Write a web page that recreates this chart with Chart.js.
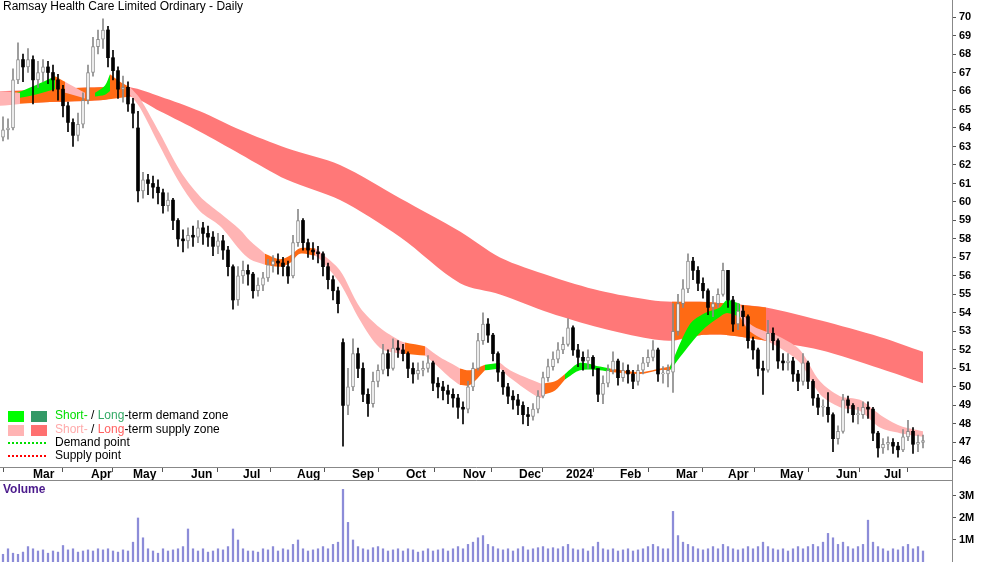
<!DOCTYPE html>
<html><head><meta charset="utf-8">
<script src="https://cdn.jsdelivr.net/npm/chart.js@4.4.0/dist/chart.umd.min.js"></script>
<style>body{margin:0;background:#fff;overflow:hidden}canvas{display:block}</style>
</head><body>
<canvas id="p" width="1000" height="481"></canvas>
<canvas id="v" width="1000" height="81"></canvas>
<script>
// ---- data (one bar per ~2 trading days, index 0..184) ----
const firstOpen = 63.5;
const gapOpen = {68: 52.4, 134: 50.8, 27: 64.0};
const close = [63.9,64.0,66.6,67.7,67.3,67.7,66.6,67.0,67.3,67.0,66.6,66.1,65.2,64.3,63.6,64.2,65.5,67.0,68.4,68.8,
69.3,67.8,67.1,66.1,66.2,65.3,64.8,60.6,61.2,61.0,60.8,60.5,59.8,60.1,59.0,58.0,57.9,58.2,58.1,58.6,
58.3,58.1,57.6,57.9,57.4,56.5,54.7,56.0,56.3,56.1,55.2,55.5,55.9,56.6,56.8,56.7,56.5,56.0,57.8,59.0,
57.8,57.4,57.3,57.2,56.5,55.8,55.2,54.5,49.0,50.0,51.8,51.0,49.6,49.1,50.3,50.9,51.8,51.0,52.1,52.0,
51.8,51.0,50.7,50.9,51.0,51.3,50.2,50.0,49.8,49.6,49.4,48.9,48.8,50.0,51.0,52.5,53.4,52.8,51.8,50.8,
50.0,49.5,49.3,49.0,48.5,48.4,48.8,49.5,50.5,51.1,51.5,52.0,52.3,53.2,52.0,51.6,51.4,51.6,51.0,49.6,
50.2,50.9,51.4,50.5,50.9,50.7,50.3,50.9,51.3,51.6,52.0,50.7,50.7,50.9,53.0,54.5,55.3,56.8,56.3,55.6,
55.2,54.3,54.5,55.0,56.3,54.7,53.4,54.1,53.8,52.5,52.0,51.0,50.9,52.9,52.5,51.4,51.3,51.4,50.7,50.3,
51.3,50.3,49.4,48.9,48.9,48.5,47.2,47.6,49.3,49.0,48.5,48.5,48.9,48.8,47.5,46.7,46.9,47.0,46.8,46.6,
47.3,47.6,46.9,47.0,47.1];
const high = [64.6,64.5,67.2,68.6,68.0,68.3,67.9,67.6,67.7,67.6,67.4,66.9,66.3,65.4,64.5,64.8,65.9,67.4,68.9,69.3,
69.9,69.5,68.2,67.3,66.8,66.5,65.6,64.9,61.6,61.5,61.4,61.2,60.7,60.5,60.2,59.1,58.5,58.6,58.7,59.0,
58.9,58.7,58.4,58.3,58.2,57.6,56.6,56.5,56.8,56.6,56.2,55.9,56.2,56.9,57.1,57.2,57.0,56.8,58.2,59.6,
59.1,58.0,57.8,57.6,57.3,56.7,56.0,55.4,52.6,51.0,52.6,52.1,51.3,49.9,50.8,51.2,52.3,52.0,52.6,52.5,
52.3,51.9,51.3,51.3,51.4,51.7,51.4,50.5,50.3,50.1,49.9,49.6,49.2,50.3,51.3,52.9,54.0,53.7,52.9,51.9,
50.9,50.2,49.8,49.6,49.2,48.9,49.1,49.8,50.8,51.5,51.9,52.4,52.7,53.7,53.3,52.3,51.9,52.0,51.7,50.7,
50.6,51.2,51.9,51.5,51.3,51.2,50.9,51.2,51.6,52.0,52.5,52.1,51.1,51.2,54.5,55.0,55.8,57.2,57.0,56.5,
55.9,55.3,54.9,55.3,56.7,56.3,54.9,54.5,54.4,53.9,52.7,52.1,51.4,53.6,53.2,52.6,51.8,51.8,51.6,50.9,
51.8,51.4,50.4,49.6,49.3,49.7,48.6,47.9,49.6,49.5,49.1,48.9,49.2,49.2,48.9,47.6,47.2,47.3,47.2,47.0,
47.7,48.2,47.8,47.4,47.4];
const low = [63.3,63.4,63.9,66.4,66.5,67.0,65.3,66.2,66.5,66.4,66.0,65.5,64.6,63.8,63.0,63.3,64.0,65.3,66.8,68.0,
68.3,67.3,66.6,65.6,65.4,64.9,64.0,60.0,60.2,60.4,60.2,59.9,59.4,59.5,58.5,57.6,57.3,57.5,57.6,57.8,
57.7,57.6,57.1,57.2,56.9,56.0,54.2,54.4,55.6,55.5,54.8,54.9,55.2,55.7,56.2,56.1,56.0,55.6,55.9,57.6,
57.4,57.0,56.9,56.7,56.0,55.3,54.7,54.0,46.8,48.5,49.8,50.5,49.2,48.4,48.9,50.0,50.7,50.6,50.9,51.6,
51.4,50.5,50.2,50.4,50.6,50.8,49.8,49.4,49.3,49.1,48.9,48.3,48.0,48.6,49.8,50.9,52.3,52.4,51.4,50.3,
49.6,49.1,48.8,48.5,48.0,47.9,48.2,48.6,49.4,50.3,50.9,51.3,51.8,52.2,51.7,51.1,50.9,51.0,50.6,49.2,
49.1,50.0,50.7,50.1,50.3,50.2,49.9,50.1,50.7,51.1,51.4,50.3,50.2,50.0,49.7,52.8,54.3,55.1,55.8,55.2,
54.8,53.9,53.8,54.3,54.9,54.3,53.0,53.1,53.3,52.1,51.5,50.6,49.6,50.8,52.0,51.0,50.9,50.9,50.3,49.8,
50.1,49.9,49.0,48.5,48.4,48.1,46.5,46.9,47.5,48.6,48.1,48.0,48.3,48.3,47.1,46.2,46.4,46.6,46.4,46.2,
46.5,47.1,46.4,46.5,46.7];
const volume = [0.35,0.6,0.4,0.35,0.45,0.7,0.6,0.5,0.55,0.4, 0.5,0.45,0.75,0.55,0.6,0.45,0.5,0.55,0.5,0.6,
0.55,0.6,0.5,0.45,0.55,0.5,0.9,2.0,1.1,0.6, 0.5,0.4,0.6,0.5,0.55,0.6,0.7,1.5,0.6,0.5,
0.6,0.45,0.5,0.6,0.55,0.7,1.5,1.0,0.6,0.5, 0.5,0.45,0.6,0.55,0.7,0.5,0.6,0.55,0.8,1.0,
0.6,0.5,0.55,0.6,0.7,0.6,0.8,0.9,3.3,1.8, 1.0,0.7,0.6,0.55,0.65,0.7,0.6,0.5,0.55,0.6,
0.5,0.6,0.55,0.45,0.5,0.6,0.5,0.55,0.6,0.5, 0.6,0.7,0.6,0.8,0.9,1.1,1.2,0.8,0.7,0.6,
0.55,0.6,0.5,0.6,0.7,0.55,0.6,0.65,0.7,0.6, 0.65,0.6,0.7,0.8,0.6,0.55,0.6,0.5,0.7,0.9,
0.6,0.55,0.6,0.5,0.55,0.6,0.5,0.55,0.6,0.7, 0.8,0.7,0.6,0.6,2.3,1.2,0.9,0.8,0.7,0.6,
0.55,0.6,0.7,0.6,0.8,0.7,0.6,0.55,0.6,0.7, 0.6,0.7,0.9,0.7,0.6,0.55,0.6,0.5,0.6,0.7,
0.6,0.7,0.8,0.7,0.9,1.3,1.1,0.8,0.9,0.7, 0.6,0.7,0.8,1.9,0.9,0.7,0.6,0.5,0.6,0.55,
0.7,0.8,0.6,0.7,0.5];
const monthIdx = [6,17.6,26,37.6,48,58.8,69.8,80.6,92,103.2,112.6,123.4,134.6,145,155.4,166.6,176.2];
const monthLabels = ["Mar","Apr","May","Jun","Jul","Aug","Sep","Oct","Nov","Dec","2024","Feb","Mar","Apr","May","Jun","Jul"];
const priceTicks = [46,47,48,49,50,51,52,53,54,55,56,57,58,59,60,61,62,63,64,65,66,67,68,69,70];
const volTicks = [1,2,3];
// zone bands: [index, upper, lower]
const longBand = [[-0.6,66.0,65.3],[9.4,66.1,65.4],[19.4,66.2,65.5],[25.4,66.2,65.7],[31.4,65.7,64.9],[39.4,64.9,63.8],[47.4,63.9,62.6],[56.8,62.9,61.2],[67.4,62.0,60.1],[79.4,60.2,58.1],[91.4,58.4,55.6],[99.4,57.0,55.0],[109.4,56.0,54.0],[119.4,55.2,53.2],[129.4,54.7,52.6],[133.8,54.6,52.5],[139.4,54.6,52.8],[145,54.5,52.8],[152.6,54.3,52.5],[163.4,53.6,52.0],[175.4,52.7,51.0],[184,51.9,50.2]];
const longOrange1 = [[2.4,66.0,65.3],[9.4,66.1,65.4],[19.4,66.2,65.5],[25.4,66.2,65.7]];
const longOrange2 = [[133.8,54.6,52.5],[139.4,54.6,52.8],[145,54.5,52.8],[152.6,54.3,52.5]];
const shortZones = [
 ["pink",[[-0.6,66.0,65.2],[3.4,65.9,65.3]]],
 ["green",[[2.8,65.9,65.6],[6.4,66.3,65.8],[10.4,66.8,66.1]]],
 ["orange",[[10.4,66.8,66.1],[12.4,66.5,65.9]]],
 ["pink",[[12.4,66.5,65.9],[16.4,65.9,65.6]]],
 ["green",[[18.4,65.9,65.7],[20.4,66.3,65.8],[21.4,66.9,66.0]]],
 ["orange",[[21.4,66.9,66.0],[23.4,66.5,66.0],[25.4,66.2,65.8]]],
 ["pink",[[25.4,66.2,65.8],[27.4,65.6,65.1],[31.4,63.7,63.0],[35.4,61.7,61.0],[39.4,60.3,59.5],[43.4,59.4,58.7],[47.4,58.5,57.4],[49.4,57.9,56.9],[52.4,57.2,56.6]]],
 ["orange",[[52.4,57.2,56.6],[55.4,56.9,56.5],[57.4,57.1,56.7],[59.4,57.5,57.2],[62.4,57.5,57.1]]],
 ["pink",[[62.4,57.5,57.1],[63.4,57.3,56.9],[67.4,56.3,55.6],[71.4,54.3,53.6],[75.4,53.2,52.1],[79.4,52.5,51.8],[80.4,52.4,51.8]]],
 ["orange",[[80.4,52.4,51.8],[84.4,52.2,51.7]]],
 ["pink",[[84.4,52.2,51.7],[87.4,51.6,51.0],[89.4,51.3,50.5],[91.4,51.0,50.1]]],
 ["orange",[[91.4,51.0,50.1],[93.4,50.9,50.1],[96.4,51.2,50.9]]],
 ["green",[[96.4,51.2,50.9],[99.4,51.3,51.0]]],
 ["pink",[[99.4,51.3,51.0],[101.4,50.9,50.5],[107.4,50.2,49.4],[108.4,50.2,49.6]]],
 ["orange",[[108.4,50.2,49.6],[110.4,50.3,49.8],[112.4,50.7,50.4]]],
 ["green",[[112.4,50.7,50.4],[115.4,51.3,50.9],[119.4,51.1,50.9],[121.4,51.0,50.8]]],
 ["orange",[[121.4,51.0,50.8],[127.4,50.8,50.7],[131.4,51.0,50.9],[133.4,51.1,50.9]]],
 ["green",[[133.4,51.1,50.9],[137.4,53.4,52.3],[140.4,54.0,53.2],[143.4,54.3,53.8],[144.8,54.7,54.0],[147.4,54.5,53.8]]],
 ["pink",[[147.4,54.5,53.8],[149.4,53.4,53.0],[155.4,52.7,52.1],[159.4,52.0,51.3],[163.4,50.3,49.6],[167.4,49.5,48.9],[171.4,49.3,48.7],[175.4,48.5,47.8],[179.4,47.9,47.5],[184,47.6,47.3]]]
];
// ---- styling ----
const C = {green:"#00ee00", pink:"#ffb4b4", orange:"#ff6a14", red:"#ff7878"};
const FONT = "'Liberation Sans', Arial, sans-serif";
const XMIN = -0.6, XMAX = 189.8;

function bandSets(pts, color, order){
  return [
    {type:'line', data: pts.map(p=>({x:p[0], y:p[1]})), borderWidth:0, pointRadius:0, fill:false, order, backgroundColor:color, borderColor:'rgba(0,0,0,0)', tension:0.3},
    {type:'line', data: pts.map(p=>({x:p[0], y:p[2]})), borderWidth:0, pointRadius:0, fill:'-1', order, backgroundColor:color, borderColor:'rgba(0,0,0,0)', tension:0.3}
  ];
}
const open = close.map((c,i)=> gapOpen[i] !== undefined ? gapOpen[i] : (i===0 ? firstOpen : close[i-1]));
const up = close.map((c,i)=> c >= open[i]);

const datasets = [];
datasets.push(...bandSets(longBand, C.red, 30));
datasets.push(...bandSets(longOrange1, C.orange, 29));
datasets.push(...bandSets(longOrange2, C.orange, 29));
shortZones.forEach(z=> datasets.push(...bandSets(z[1], C[z[0]], 20)));
datasets.push({type:'bar', order:2, grouped:false, barThickness:1,
  data: close.map((c,i)=>({x:i, y:[low[i], high[i]]})),
  backgroundColor: close.map((c,i)=> up[i] ? '#8a8a8a' : '#000')});
datasets.push({type:'bar', order:1, grouped:false, barThickness:3, borderSkipped:false,
  data: close.map((c,i)=>{const a=Math.min(open[i],c), b=Math.max(open[i],c); return {x:i, y:[a, Math.max(b, a+0.06)]};}),
  backgroundColor: close.map((c,i)=> up[i] ? '#ffffff' : '#000'),
  borderColor: close.map((c,i)=> up[i] ? '#8a8a8a' : '#000'),
  borderWidth: close.map((c,i)=> up[i] ? 1 : 0)});

const extras = {
  id:'extras',
  afterDraw(chart){
    const ctx = chart.ctx;
    ctx.save();
    ctx.fillStyle = '#000';
    ctx.font = "12px " + FONT;
    ctx.textBaseline = 'middle';
    ctx.fillText("Ramsay Health Care Limited Ordinary - Daily", 3, 7);
    // legend
    const rows = [416, 430, 443, 456];
    ctx.fillStyle = '#00ff00'; ctx.fillRect(8, rows[0]-5, 16, 11);
    ctx.fillStyle = '#339966'; ctx.fillRect(31, rows[0]-5, 16, 11);
    ctx.fillStyle = '#ffb4b4'; ctx.fillRect(8, rows[1]-5, 16, 11);
    ctx.fillStyle = '#ff7070'; ctx.fillRect(31, rows[1]-5, 16, 11);
    ctx.lineWidth = 2;
    ctx.setLineDash([2,2]);
    ctx.strokeStyle = '#00dd00'; ctx.beginPath(); ctx.moveTo(8, rows[2]); ctx.lineTo(47, rows[2]); ctx.stroke();
    ctx.strokeStyle = '#ff0000'; ctx.beginPath(); ctx.moveTo(8, rows[3]); ctx.lineTo(47, rows[3]); ctx.stroke();
    ctx.setLineDash([]);
    function parts(list, y){ let x = 55; list.forEach(([t,c])=>{ ctx.fillStyle=c; ctx.fillText(t,x,y); x += ctx.measureText(t).width; }); }
    parts([["Short-","#00dd00"],[" / ","#000"],["Long","#33aa66"],["-term demand zone","#000"]], rows[0]);
    parts([["Short-","#ffaaaa"],[" / ","#000"],["Long","#ff6060"],["-term supply zone","#000"]], rows[1]);
    parts([["Demand point","#000"]], rows[2]);
    parts([["Supply point","#000"]], rows[3]);
    // date strip frame
    const a = chart.chartArea;
    ctx.strokeStyle = '#888'; ctx.lineWidth = 1;
    ctx.beginPath(); ctx.moveTo(0, 480.5); ctx.lineTo(a.right+0.5, 480.5);
    ctx.moveTo(a.right+0.5, a.bottom); ctx.lineTo(a.right+0.5, 481); ctx.stroke();
    ctx.restore();
  }
};

new Chart(document.getElementById('p'), {
  type:'bar',
  data:{datasets},
  options:{
    responsive:false, animation:false, devicePixelRatio:1,
    layout:{padding:0},
    plugins:{legend:{display:false}, tooltip:{enabled:false}},
    scales:{
      x:{type:'linear', min:XMIN, max:XMAX, offset:false,
        afterBuildTicks(s){ s.ticks = monthIdx.map(v=>({value:v})); },
        afterFit(s){ s.height = 14; s.paddingLeft=0; s.paddingRight=0; },
        ticks:{autoSkip:false, maxRotation:0, align:'start', padding:-5, color:'#000', font:{family:FONT, size:12, weight:'bold'},
          callback(v, i){ return monthLabels[i]; }},
        grid:{drawOnChartArea:false, tickLength:5, color:'#555'},
        border:{color:'#888'}},
      y:{position:'right', min:45.67, max:70.92,
        afterBuildTicks(s){ s.ticks = priceTicks.map(v=>({value:v})); },
        afterFit(s){ s.width = 48; s.paddingTop=0; s.paddingBottom=0; },
        ticks:{padding:3, color:'#000', font:{family:FONT, size:11, weight:'bold'}},
        grid:{drawOnChartArea:false, tickLength:4, color:'#555'},
        border:{color:'#888'}}
    }
  },
  plugins:[extras]
});

const volTitle = {id:'volTitle', afterDraw(chart){const ctx=chart.ctx; ctx.save(); ctx.fillStyle='#4b1a8c'; ctx.font="bold 12px "+FONT; ctx.textBaseline='middle'; ctx.fillText("Volume",3,9); ctx.restore();}};
new Chart(document.getElementById('v'), {
  type:'bar',
  data:{datasets:[{data: volume.map((v,i)=>({x:i, y:v})), backgroundColor:'#8c8cd8', barThickness:1.6, grouped:false}]},
  options:{
    responsive:false, animation:false, devicePixelRatio:1,
    layout:{padding:0},
    plugins:{legend:{display:false}, tooltip:{enabled:false}},
    scales:{
      x:{type:'linear', min:XMIN, max:XMAX, offset:false, display:false},
      y:{position:'right', min:0, max:3.68,
        afterBuildTicks(s){ s.ticks = volTicks.map(v=>({value:v})); },
        afterFit(s){ s.width = 48; s.paddingTop=0; s.paddingBottom=0; },
        ticks:{padding:3, color:'#000', font:{family:FONT, size:11, weight:'bold'}, callback:v=>v+"M"},
        grid:{drawOnChartArea:false, tickLength:4, color:'#555'},
        border:{color:'#888'}}
    }
  },
  plugins:[volTitle]
});
</script>
</body></html>
